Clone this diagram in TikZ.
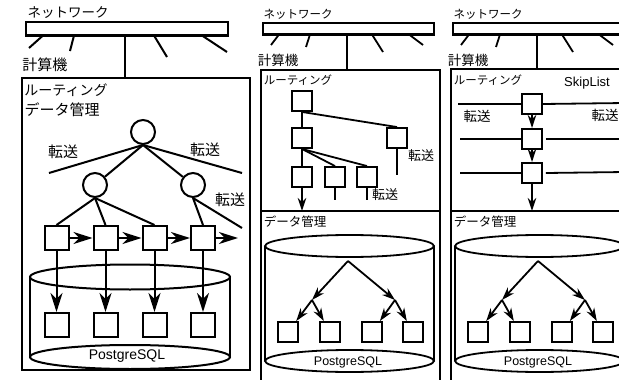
\documentclass[tikz,border=0pt]{standalone}
\usepackage{fontspec}
\usetikzlibrary{arrows.meta}
\newfontfamily\jpf{Noto Sans CJK JP}
\newfontfamily\latf{Liberation Sans}
\newcommand\jps[1]{\jpf\fontsize{#1}{#1}\selectfont}
\newcommand\lts[1]{\latf\fontsize{#1}{#1}\selectfont}
\tikzset{
  ln/.style={line width=2pt},
  lnm/.style={line width=1.8pt},
  arrL/.style={line width=2pt,-{Stealth[length=19pt,width=12pt,inset=6pt]}},
  arrM/.style={line width=1.8pt,-{Stealth[length=13pt,width=8.5pt,inset=4pt]}},
  sqL/.style={draw,line width=2pt,minimum size=24pt,inner sep=0},
  sqM/.style={draw,line width=1.9pt,minimum size=20pt,inner sep=0},
  circL/.style={draw,circle,line width=2pt,minimum size=24pt,inner sep=0},
  barbox/.style={draw,line width=2.1pt,inner sep=0},
  panel/.style={draw,line width=2.5pt,inner sep=0},
  lbl/.style={inner sep=0},
}
\begin{document}
\begin{tikzpicture}[x=1pt,y=-1pt]
\useasboundingbox (0,0) rectangle (619,380);
\clip (0,0) rectangle (619,380);
\fill[white] (0,0) rectangle (619,380);

% ================= LEFT PANEL =================
\node[lbl,font=\jps{13.5}] (net1) at (68,13) {ネットワーク};
\node[barbox,minimum width=202pt,minimum height=13.5pt] (bar1) at (127,28.7) {};
\coordinate (b1a) at (43,35.5); \coordinate (e1a) at (29,48);
\coordinate (b1b) at (74,35.5); \coordinate (e1b) at (70,51);
\coordinate (b1c) at (154,35.5); \coordinate (e1c) at (167,57);
\coordinate (b1d) at (202,35.5); \coordinate (e1d) at (227,52);
\draw[ln] (b1a) -- (e1a);
\draw[ln] (b1b) -- (e1b);
\draw[ln] (b1c) -- (e1c);
\draw[ln] (b1d) -- (e1d);
\node[lbl,font=\jps{15}] (pc1) at (45,65) {計算機};
\node[panel,minimum width=228pt,minimum height=292pt] (box1) at (136,224) {};
\coordinate (v1) at (125,35.5);
\draw[ln] (v1) -- (v1 |- box1.north);
\node[lbl,font=\jps{14}] (rt1) at (66,90) {ルーティング};
\node[lbl,font=\jps{15}] (dm1) at (62,110) {データ管理};

\node[circL] (top) at (143,132) {};
\node[circL] (lc) at (95,185) {};
\node[circL] (rc) at (193,185) {};
\coordinate (t1) at (49,173);
\coordinate (t2) at (242,173);
\coordinate (t3) at (242,228);
\draw[ln] (top.south) -- (t1);
\draw[ln] (top.south) -- (t2);
\draw[ln] (top.south) -- (lc);
\draw[ln] (top.south) -- (rc);
\node[lbl,font=\jps{15}] (tr1) at (63,152) {転送};
\node[lbl,font=\jps{15}] (tr2) at (205,150) {転送};
\node[lbl,font=\jps{15}] (tr3) at (230,200) {転送};

\node[sqL] (s1) at (56.5,238) {};
\node[sqL] (s2) at (105.5,238) {};
\node[sqL] (s3) at (154.5,238) {};
\node[sqL] (s4) at (203,238) {};
\draw[ln] (lc.south) -- (s1.north);
\draw[ln] (lc.south) -- (s2.north);
\draw[ln] (lc.south) -- (s3.north);
\draw[ln] (rc.south) -- (s4.north);
\draw[ln] (rc.south) -- (t3);
\coordinate (s5) at (238,238);
\draw[arrL] (s1.east) -- (s2.west);
\draw[arrL] (s2.east) -- (s3.west);
\draw[arrL] (s3.east) -- (s4.west);
\draw[arrL] (s4.east) -- (s5);

% cylinder left
\draw[ln] (30,277) -- (30,357);
\draw[ln] (230,277) -- (230,357);
\draw[ln] (130,277) ellipse [x radius=100pt, y radius=12.5pt];
\draw[ln] (130,357) ellipse [x radius=100pt, y radius=12pt];
\node[lbl,font=\lts{14}] (pg1) at (127,356) {PostgreSQL};

\node[sqL] (q1) at (56.5,325) {};
\node[sqL] (q2) at (105.5,325) {};
\node[sqL] (q3) at (154.5,325) {};
\node[sqL] (q4) at (203,325) {};
\draw[arrL] (s1.south) -- (q1.north);
\draw[arrL] (s2.south) -- (q2.north);
\draw[arrL] (s3.south) -- (q3.north);
\draw[arrL] (s4.south) -- (q4.north);

% ================= MIDDLE PANEL =================
\node[lbl,font=\jps{11.5}] (net2) at (298,14) {ネットワーク};
\node[barbox,minimum width=171pt,minimum height=11.5pt] (bar2) at (348.5,28.7) {};
\coordinate (b2a) at (279,34.5); \coordinate (e2a) at (271,45);
\coordinate (b2b) at (310,34.5); \coordinate (e2b) at (306,47);
\coordinate (b2c) at (372,34.5); \coordinate (e2c) at (383,52);
\coordinate (b2d) at (409,34.5); \coordinate (e2d) at (423,45);
\draw[lnm] (b2a) -- (e2a);
\draw[lnm] (b2b) -- (e2b);
\draw[lnm] (b2c) -- (e2c);
\draw[lnm] (b2d) -- (e2d);
\node[lbl,font=\jps{13.5}] (pc2) at (278,60) {計算機};
\node[panel,minimum width=179pt,minimum height=314pt] (box2) at (350.5,227) {};
\coordinate (v2) at (347,34.5);
\draw[lnm] (v2) -- (v2 |- box2.north);
\coordinate (d2l) at (261,211); \coordinate (d2r) at (440,211);
\draw[panel] (d2l) -- (d2r);
\node[lbl,font=\jps{11.5}] (rt2) at (298,80) {ルーティング};

\node[sqM] (ma) at (302,101) {};
\node[sqM] (mb) at (302,138) {};
\node[sqM] (mc) at (397,138) {};
\node[sqM] (md) at (302,177) {};
\node[sqM] (me) at (335,177) {};
\node[sqM] (mf) at (367,177) {};
\draw[lnm] (ma.south) -- (mb.north);
\draw[lnm] (ma.south) -- (mc.north);
\draw[lnm] (mb.south) -- (md.north);
\draw[lnm] (mb.south) -- (me.north);
\draw[lnm] (mb.south) -- (mf.north);
\coordinate (mce) at (397,175);
\coordinate (mee) at (335,200);
\coordinate (mfe) at (367,200);
\coordinate (mde) at (302,211);
\draw[lnm] (mc.south) -- (mce);
\draw[lnm] (me.south) -- (mee);
\draw[lnm] (mf.south) -- (mfe);
\draw[arrM] (md.south) -- (mde);
\node[lbl,font=\jps{13}] (tr4) at (421,156) {転送};
\node[lbl,font=\jps{13}] (tr5) at (385,195) {転送};
\node[lbl,font=\jps{12.5}] (dm2) at (295,222) {データ管理};

\draw[lnm] (265,246) -- (265,361);
\draw[lnm] (434,246) -- (434,361);
\draw[lnm] (349.5,246) ellipse [x radius=84.5pt, y radius=11pt];
\draw[lnm] (349.5,361) ellipse [x radius=84.5pt, y radius=11pt];
\node[lbl,font=\lts{12.5}] (pg2) at (348,362) {PostgreSQL};

\coordinate (r2) at (348,261);
\coordinate (j2a) at (312,300);
\coordinate (j2b) at (395,300);
\node[sqM] (p1) at (288,332) {};
\node[sqM] (p2) at (330,332) {};
\node[sqM] (p3) at (372,332) {};
\node[sqM] (p4) at (413,332) {};
\draw[arrM] (r2) -- (j2a);
\draw[arrM] (r2) -- (j2b);
\draw[arrM] (j2a) -- (p1);
\draw[arrM] (j2a) -- (p2);
\draw[arrM] (j2b) -- (p3);
\draw[arrM] (j2b) -- (p4);

% ================= RIGHT PANEL =================
\node[lbl,font=\jps{11.5}] (net3) at (488,14) {ネットワーク};
\node[barbox,minimum width=172pt,minimum height=11.5pt] (bar3) at (539,28.7) {};
\coordinate (b3a) at (469,34.5); \coordinate (e3a) at (461,45);
\coordinate (b3b) at (500,34.5); \coordinate (e3b) at (496,47);
\coordinate (b3c) at (562,34.5); \coordinate (e3c) at (573,52);
\coordinate (b3d) at (599,34.5); \coordinate (e3d) at (613,45);
\draw[lnm] (b3a) -- (e3a);
\draw[lnm] (b3b) -- (e3b);
\draw[lnm] (b3c) -- (e3c);
\draw[lnm] (b3d) -- (e3d);
\node[lbl,font=\jps{13.5}] (pc3) at (468,60) {計算機};
\node[panel,minimum width=179pt,minimum height=313pt] (box3) at (540.5,225.5) {};
\coordinate (v3) at (537,34.5);
\draw[lnm] (v3) -- (v3 |- box3.north);
\coordinate (d3l) at (451,211); \coordinate (d3r) at (630,211);
\draw[panel] (d3l) -- (d3r);
\node[lbl,font=\jps{11.5}] (rt3) at (488,80) {ルーティング};
\node[lbl,font=\lts{13}] (sk) at (587,83) {SkipList};

\node[sqM] (ka) at (532,104) {};
\node[sqM] (kb) at (532,139) {};
\node[sqM] (kc) at (532,173) {};
\coordinate (ka1) at (458,104); \coordinate (ka2) at (625,103);
\coordinate (kb1) at (460,139); \coordinate (kb2) at (625,139);
\coordinate (kc1) at (460,173); \coordinate (kc2) at (625,172);
\draw[lnm] (ka1) -- (ka.west);
\draw[lnm] (ka.east) -- (ka2);
\draw[lnm] (kb1) -- (kb.west);
\draw[lnm] ([xshift=3pt]kb.east) -- (kb2);
\draw[lnm] (kc1) -- (kc.west);
\draw[lnm] ([xshift=3pt]kc.east) -- (kc2);
\coordinate (kce) at (532,211);
\draw[arrM] (ka.south) -- (kb.north);
\draw[arrM] (kb.south) -- (kc.north);
\draw[arrM] (kc.south) -- (kce);
\node[lbl,font=\jps{13.5}] (tr6) at (477,116) {転送};
\node[lbl,font=\jps{13.5}] (tr7) at (605,115) {転送};
\node[lbl,font=\jps{12.5}] (dm3) at (485,222) {データ管理};

\draw[lnm] (455,246) -- (455,361);
\draw[lnm] (624,246) -- (624,361);
\draw[lnm] (539.5,246) ellipse [x radius=84.5pt, y radius=11pt];
\draw[lnm] (539.5,361) ellipse [x radius=84.5pt, y radius=11pt];
\node[lbl,font=\lts{12.5}] (pg3) at (538,362) {PostgreSQL};

\coordinate (r3) at (538,261);
\coordinate (j3a) at (502,300);
\coordinate (j3b) at (585,300);
\node[sqM] (u1) at (478,332) {};
\node[sqM] (u2) at (520,332) {};
\node[sqM] (u3) at (562,332) {};
\node[sqM] (u4) at (603,332) {};
\draw[arrM] (r3) -- (j3a);
\draw[arrM] (r3) -- (j3b);
\draw[arrM] (j3a) -- (u1);
\draw[arrM] (j3a) -- (u2);
\draw[arrM] (j3b) -- (u3);
\draw[arrM] (j3b) -- (u4);
\end{tikzpicture}
\end{document}
